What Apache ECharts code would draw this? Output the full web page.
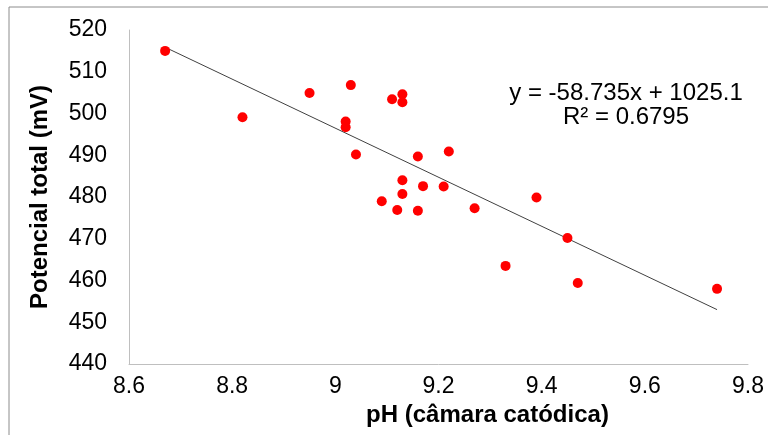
<!DOCTYPE html>
<html>
<head>
<meta charset="utf-8">
<script src="https://cdn.jsdelivr.net/npm/echarts@6/dist/echarts.min.js"></script>
<style>
  html, body { margin: 0; padding: 0; background: #fff; }
  #chart { width: 768px; height: 435px; }
</style>
</head>
<body>
<div id="chart"></div>
<script>
// pH (câmara catódica) vs potencial total (mV)
const phValues = [
    8.67, 8.82, 8.95, 9.02, 9.02, 9.03, 9.04, 9.11, 9.13, 9.13,
    9.16, 9.22, 9.13, 9.17, 9.21, 9.13, 9.09, 9.12, 9.16, 9.27,
    9.39, 9.45, 9.33, 9.47, 9.74,
];
const potentialValues = [
    515.0, 499.1, 504.9, 498.1, 496.7, 506.8, 490.2, 503.4, 504.6, 502.7,
    489.7, 490.9, 484.0, 482.6, 482.5, 480.7, 479.0, 476.9, 476.7, 477.3,
    479.9, 470.2, 463.5, 459.4, 458.0,
];

// linear trendline from the reference
const trendSlope = -58.735;
const trendIntercept = 1025.1;
const trendR2 = 0.6795;

const xTicks = { min: 8.6, max: 9.8, interval: 0.2 };
const yTicks = { min: 440, max: 520, interval: 10 };

const points = phValues.map((x, i) => [x, potentialValues[i]]);
const xMin = Math.min(...phValues);
const xMax = Math.max(...phValues);
const trendPoints = [xMin, xMax].map((x) => [x, trendSlope * x + trendIntercept]);

const chart = echarts.init(document.getElementById("chart"));

const font = "Liberation Sans, Arial, sans-serif";

chart.setOption({
    animation: false,
    grid: {
        left: 129,
        right: 20,
        top: 30,
        bottom: 71,
    },
    xAxis: {
        type: "value",
        min: xTicks.min,
        max: xTicks.max,
        interval: xTicks.interval,
        name: "pH (câmara catódica)",
        nameLocation: "middle",
        nameGap: 37,
        nameTextStyle: {
            fontFamily: font,
            fontSize: 24,
            fontWeight: "bold",
            color: "#000",
            // the title sits right of the plot centre in the original
            padding: [0, 0, 0, 98],
        },
        axisLine: { show: true, lineStyle: { color: "#bfbfbf", width: 1 } },
        axisTick: { show: false },
        splitLine: { show: false },
        axisLabel: {
            fontFamily: font,
            fontSize: 23,
            color: "#000",
            margin: 11,
        },
    },
    yAxis: {
        type: "value",
        min: yTicks.min,
        max: yTicks.max,
        interval: yTicks.interval,
        name: "Potencial total (mV)",
        nameLocation: "middle",
        nameGap: 77,
        nameTextStyle: {
            fontFamily: font,
            fontSize: 24,
            fontWeight: "bold",
            color: "#000",
        },
        axisLine: { show: true, lineStyle: { color: "#bfbfbf", width: 1 } },
        axisTick: { show: false },
        splitLine: { show: false },
        axisLabel: {
            fontFamily: font,
            fontSize: 23,
            color: "#000",
            margin: 22,
        },
    },
    graphic: [
        {
            type: "rect",
            shape: { x: 9, y: 7, width: 900, height: 600 },
            style: { fill: "none", stroke: "#8c8c8c", lineWidth: 1 },
            silent: true,
        },
        {
            type: "text",
            x: 626,
            y: 81,
            style: {
                text: `y = ${trendSlope}x + ${trendIntercept}`,
                font: `24px ${font}`,
                fill: "#000",
                align: "center",
            },
        },
        {
            type: "text",
            x: 626,
            y: 105,
            style: {
                text: `R² = ${trendR2}`,
                font: `24px ${font}`,
                fill: "#000",
                align: "center",
            },
        },
    ],
    series: [
        {
            name: "Linear",
            type: "line",
            data: trendPoints,
            showSymbol: false,
            lineStyle: { color: "#404040", width: 1 },
            z: 1,
        },
        {
            name: "Potencial",
            type: "scatter",
            data: points,
            symbol: "circle",
            symbolSize: 10,
            itemStyle: { color: "#ff0000", opacity: 1 },
            z: 2,
        },
    ],
});
</script>
</body>
</html>
